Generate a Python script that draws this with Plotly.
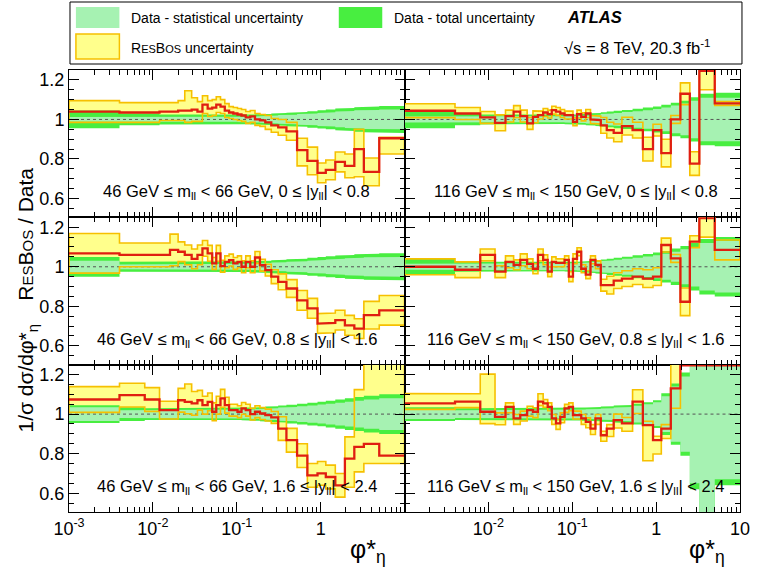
import plotly.graph_objects as go
from plotly.subplots import make_subplots

# ---------------- data ----------------
phi_edges = [0.0, 0.004, 0.008, 0.012, 0.016, 0.020, 0.024, 0.029, 0.034, 0.039, 0.045,
             0.051, 0.057, 0.064, 0.072, 0.081, 0.091, 0.102, 0.114, 0.128, 0.145, 0.165,
             0.189, 0.219, 0.258, 0.312, 0.391, 0.524, 0.695, 0.918, 1.153, 1.496, 1.947,
             2.522, 3.277, 5.0, 10.0]

x_tick_vals = [1e-3, 1e-2, 1e-1, 1, 10]
x_tick_text_left = ["10<sup>-3</sup>", "10<sup>-2</sup>", "10<sup>-1</sup>", "1", ""]
x_tick_text_right = ["", "10<sup>-2</sup>", "10<sup>-1</sup>", "1", "10"]
y_tick_vals = [0.6, 0.8, 1.0, 1.2]
y_tick_text = ["0.6", "0.8", "1", "1.2"]

panel_labels = [
    "46 GeV ≤ m<sub>ll</sub> < 66 GeV, 0 ≤ |y<sub>ll</sub>| < 0.8",
    "116 GeV ≤ m<sub>ll</sub> < 150 GeV, 0 ≤ |y<sub>ll</sub>| < 0.8",
    "46 GeV ≤ m<sub>ll</sub> < 66 GeV, 0.8 ≤ |y<sub>ll</sub>| < 1.6",
    "116 GeV ≤ m<sub>ll</sub> < 150 GeV, 0.8 ≤ |y<sub>ll</sub>| < 1.6",
    "46 GeV ≤ m<sub>ll</sub> < 66 GeV, 1.6 ≤ |y<sub>ll</sub>| < 2.4",
    "116 GeV ≤ m<sub>ll</sub> < 150 GeV, 1.6 ≤ |y<sub>ll</sub>| < 2.4",
]

# Panel A: 46-66 GeV, 0<|y|<0.8
resA = [1.040, 1.035, 1.035, 1.040, 1.040, 1.045, 1.045, 1.050, 1.040, 1.075, 1.055, 1.060,
        1.075, 1.065, 1.045, 1.035, 1.030, 1.025, 1.020, 1.010, 1.015, 1.000, 0.995, 0.985,
        0.970, 0.960, 0.940, 0.845, 0.790, 0.730, 0.745, 0.785, 0.765, 0.850, 0.735, 0.905]
resA_up = [0.055, 0.050, 0.050, 0.045, 0.045, 0.050, 0.100, 0.060, 0.050, 0.045, 0.040, 0.040,
           0.040, 0.035, 0.035, 0.030, 0.030, 0.030, 0.030, 0.030, 0.030, 0.030, 0.030, 0.035,
           0.035, 0.040, 0.045, 0.060, 0.070, 0.050, 0.050, 0.050, 0.060, 0.100, 0.070, 0.005]
resA_dn = [0.055, 0.050, 0.050, 0.045, 0.045, 0.050, 0.060, 0.060, 0.050, 0.045, 0.040, 0.040,
           0.040, 0.035, 0.035, 0.030, 0.030, 0.030, 0.030, 0.030, 0.030, 0.030, 0.030, 0.035,
           0.035, 0.040, 0.045, 0.080, 0.070, 0.050, 0.050, 0.050, 0.060, 0.140, 0.070, 0.080]
statA = [0.012, 0.010, 0.010, 0.010, 0.010, 0.010, 0.010, 0.010, 0.010, 0.010, 0.010, 0.010,
         0.010, 0.010, 0.012, 0.012, 0.012, 0.013, 0.013, 0.014, 0.015, 0.016, 0.017, 0.018,
         0.020, 0.022, 0.024, 0.027, 0.030, 0.033, 0.036, 0.040, 0.043, 0.046, 0.048, 0.050]
totA = [0.045, 0.030, 0.030, 0.025, 0.025, 0.025, 0.025, 0.025, 0.025, 0.025, 0.022, 0.022,
        0.022, 0.022, 0.022, 0.022, 0.022, 0.023, 0.023, 0.024, 0.025, 0.026, 0.027, 0.028,
        0.030, 0.032, 0.034, 0.037, 0.042, 0.046, 0.050, 0.055, 0.058, 0.062, 0.065, 0.068]

# Panel B: 116-150 GeV, 0<|y|<0.8
resB = [1.044, 1.030, 1.010, 0.983, 1.017, 1.040, 1.017, 0.980, 1.013, 1.022, 1.035, 1.027,
        1.047, 1.040, 1.030, 1.022, 1.022, 0.988, 1.027, 1.013, 1.030, 1.000, 0.997, 0.970,
        0.946, 0.932, 0.966, 0.946, 0.850, 0.946, 0.830, 1.000, 1.130, 0.777, 1.400, 1.081]
resB_up = [0.035, 0.030, 0.030, 0.040, 0.030, 0.030, 0.030, 0.030, 0.030, 0.020, 0.020, 0.020,
           0.020, 0.020, 0.020, 0.020, 0.020, 0.020, 0.020, 0.020, 0.020, 0.020, 0.020, 0.040,
           0.040, 0.045, 0.045, 0.040, 0.060, 0.030, 0.070, 0.020, 0.055, 0.060, 0.250, 0.010]
resB_dn = resB_up
statB = [0.015, 0.015, 0.013, 0.013, 0.013, 0.013, 0.013, 0.013, 0.013, 0.013, 0.013, 0.013,
         0.013, 0.014, 0.014, 0.015, 0.015, 0.016, 0.017, 0.018, 0.020, 0.022, 0.024, 0.027,
         0.030, 0.033, 0.037, 0.042, 0.047, 0.053, 0.060, 0.070, 0.080, 0.095, 0.110, 0.110]
totB = [0.045, 0.030, 0.025, 0.022, 0.022, 0.022, 0.022, 0.022, 0.022, 0.022, 0.022, 0.022,
        0.022, 0.023, 0.023, 0.024, 0.024, 0.025, 0.026, 0.027, 0.029, 0.031, 0.033, 0.036,
        0.040, 0.044, 0.048, 0.054, 0.060, 0.066, 0.074, 0.085, 0.095, 0.112, 0.130, 0.135]

# Panel C: 46-66 GeV, 0.8<|y|<1.6
resC = [1.068, 1.060, 1.060, 1.060, 1.085, 1.076, 1.060, 1.040, 1.060, 1.093, 1.068, 1.017,
        1.068, 1.003, 1.025, 1.034, 1.017, 1.025, 1.000, 1.025, 1.000, 1.047, 1.008, 0.983,
        0.950, 0.924, 0.890, 0.830, 0.790, 0.713, 0.716, 0.730, 0.704, 0.687, 0.755, 0.780]
resC_up = [0.100, 0.060, 0.060, 0.060, 0.080, 0.050, 0.050, 0.050, 0.050, 0.040, 0.040, 0.030,
           0.040, 0.030, 0.030, 0.030, 0.030, 0.030, 0.030, 0.030, 0.030, 0.030, 0.030, 0.030,
           0.035, 0.040, 0.045, 0.050, 0.050, 0.050, 0.050, 0.050, 0.050, 0.050, 0.070, 0.075]
resC_dn = resC_up
statC = [0.030, 0.012, 0.012, 0.012, 0.012, 0.012, 0.012, 0.012, 0.012, 0.012, 0.012, 0.012,
         0.012, 0.012, 0.013, 0.013, 0.013, 0.014, 0.014, 0.015, 0.016, 0.017, 0.018, 0.019,
         0.021, 0.023, 0.025, 0.028, 0.031, 0.034, 0.037, 0.040, 0.043, 0.046, 0.048, 0.050]
totC = [0.050, 0.025, 0.025, 0.025, 0.025, 0.025, 0.025, 0.025, 0.025, 0.025, 0.025, 0.025,
        0.025, 0.025, 0.025, 0.025, 0.025, 0.026, 0.026, 0.027, 0.028, 0.029, 0.030, 0.031,
        0.033, 0.035, 0.038, 0.041, 0.045, 0.049, 0.053, 0.057, 0.060, 0.063, 0.066, 0.068]

# Panel D: 116-150 GeV, 0.8<|y|<1.6
resD = [1.000, 0.985, 1.060, 0.975, 1.025, 1.010, 1.035, 1.015, 0.990, 1.060, 1.035, 0.975,
        1.025, 1.020, 1.020, 1.035, 0.950, 1.040, 1.076, 0.990, 0.960, 1.035, 1.010, 0.907,
        0.907, 0.930, 0.940, 0.950, 0.940, 0.950, 1.110, 1.042, 0.823, 1.127, 1.400, 1.085]
resD_up = [0.040, 0.040, 0.030, 0.030, 0.030, 0.025, 0.030, 0.025, 0.025, 0.030, 0.025, 0.025,
           0.025, 0.020, 0.020, 0.020, 0.025, 0.025, 0.020, 0.020, 0.020, 0.020, 0.020, 0.030,
           0.045, 0.040, 0.040, 0.040, 0.045, 0.045, 0.035, 0.020, 0.070, 0.030, 0.250, 0.050]
resD_dn = resD_up
statD = [0.015, 0.015, 0.015, 0.015, 0.015, 0.015, 0.015, 0.015, 0.015, 0.015, 0.015, 0.015,
         0.015, 0.016, 0.016, 0.017, 0.017, 0.018, 0.019, 0.020, 0.022, 0.024, 0.026, 0.029,
         0.032, 0.036, 0.040, 0.046, 0.052, 0.058, 0.066, 0.076, 0.088, 0.100, 0.120, 0.130]
totD = [0.040, 0.025, 0.022, 0.022, 0.022, 0.022, 0.022, 0.022, 0.022, 0.022, 0.022, 0.022,
        0.022, 0.023, 0.023, 0.024, 0.024, 0.025, 0.026, 0.027, 0.029, 0.031, 0.034, 0.037,
        0.041, 0.046, 0.051, 0.058, 0.065, 0.072, 0.080, 0.092, 0.105, 0.120, 0.140, 0.150]

# Panel E: 46-66 GeV, 1.6<|y|<2.4
resE = [1.074, 1.096, 1.074, 1.020, 1.020, 1.070, 1.062, 1.054, 1.070, 1.045, 1.062, 1.012,
        1.045, 1.080, 1.045, 1.020, 1.020, 1.012, 1.029, 1.020, 1.000, 1.012, 1.003, 0.995,
        0.983, 0.927, 0.868, 0.790, 0.690, 0.700, 0.682, 0.640, 0.775, 0.834, 0.850, 0.790]
resE_up = [0.065, 0.060, 0.060, 0.045, 0.045, 0.060, 0.090, 0.060, 0.050, 0.045, 0.045, 0.045,
           0.045, 0.045, 0.040, 0.030, 0.030, 0.030, 0.030, 0.030, 0.030, 0.030, 0.030, 0.030,
           0.030, 0.060, 0.060, 0.060, 0.060, 0.060, 0.060, 0.060, 0.110, 0.290, 0.600, 0.600]
resE_dn = [0.065, 0.060, 0.060, 0.045, 0.045, 0.060, 0.060, 0.060, 0.050, 0.045, 0.045, 0.045,
           0.045, 0.045, 0.040, 0.030, 0.030, 0.030, 0.030, 0.030, 0.030, 0.030, 0.030, 0.030,
           0.030, 0.060, 0.060, 0.060, 0.060, 0.060, 0.060, 0.060, 0.145, 0.126, 0.100, 0.040]
statE = [0.035, 0.020, 0.020, 0.020, 0.020, 0.020, 0.020, 0.020, 0.020, 0.020, 0.020, 0.020,
         0.020, 0.020, 0.020, 0.020, 0.020, 0.020, 0.021, 0.022, 0.023, 0.024, 0.026, 0.028,
         0.030, 0.033, 0.036, 0.040, 0.044, 0.048, 0.053, 0.058, 0.063, 0.068, 0.074, 0.080]
totE = [0.045, 0.035, 0.030, 0.030, 0.030, 0.030, 0.030, 0.030, 0.030, 0.030, 0.030, 0.030,
        0.030, 0.030, 0.030, 0.030, 0.030, 0.030, 0.031, 0.032, 0.033, 0.034, 0.036, 0.038,
        0.040, 0.043, 0.047, 0.052, 0.057, 0.062, 0.068, 0.074, 0.080, 0.086, 0.093, 0.100]

# Panel F: 116-150 GeV, 1.6<|y|<2.4
resF = [1.054, 1.063, 1.012, 0.986, 1.037, 0.978, 0.995, 1.020, 1.012, 1.063, 1.054, 1.037,
        0.978, 0.953, 0.986, 1.029, 1.037, 0.995, 0.995, 0.978, 0.961, 0.927, 0.978, 0.893,
        0.927, 0.970, 0.953, 1.063, 0.944, 0.868, 0.927, 1.130, 1.320, 1.350, 1.320, 1.320]
resF_up = [0.050, 0.040, 0.190, 0.020, 0.020, 0.020, 0.020, 0.020, 0.020, 0.040, 0.020, 0.020,
           0.020, 0.020, 0.020, 0.020, 0.020, 0.020, 0.020, 0.020, 0.020, 0.020, 0.020, 0.020,
           0.020, 0.030, 0.030, 0.060, 0.020, 0.020, 0.020, 0.150, 0.050, 0.050, 0.050, 0.050]
resF_dn = [0.030, 0.030, 0.060, 0.040, 0.030, 0.030, 0.030, 0.030, 0.030, 0.020, 0.020, 0.020,
           0.030, 0.030, 0.030, 0.020, 0.020, 0.020, 0.020, 0.030, 0.030, 0.030, 0.030, 0.030,
           0.040, 0.040, 0.040, 0.060, 0.180, 0.070, 0.050, 0.100, 0.050, 0.050, 0.050, 0.050]
statF = [0.025, 0.020, 0.020, 0.020, 0.020, 0.020, 0.020, 0.020, 0.020, 0.020, 0.020, 0.020,
         0.020, 0.020, 0.020, 0.021, 0.021, 0.022, 0.022, 0.023, 0.024, 0.025, 0.026, 0.028,
         0.030, 0.033, 0.036, 0.042, 0.050, 0.060, 0.090, 0.140, 0.190, 0.350, 0.600, 0.330]
totF = [0.035, 0.030, 0.030, 0.030, 0.030, 0.030, 0.030, 0.030, 0.030, 0.030, 0.030, 0.030,
        0.030, 0.030, 0.030, 0.031, 0.031, 0.032, 0.032, 0.033, 0.034, 0.035, 0.036, 0.038,
        0.040, 0.043, 0.046, 0.052, 0.060, 0.070, 0.105, 0.155, 0.210, 0.380, 0.650, 0.360]

panels = [
    (resA, resA_up, resA_dn, statA, totA),
    (resB, resB_up, resB_dn, statB, totB),
    (resC, resC_up, resC_dn, statC, totC),
    (resD, resD_up, resD_dn, statD, totD),
    (resE, resE_up, resE_dn, statE, totE),
    (resF, resF_up, resF_dn, statF, totF),
]

# ---------------- style ----------------
XMIN, XMAX = 1e-3, 10.0
YMIN, YMAX = 0.505, 1.25
C_STAT = "#a6f2b2"
C_TOT = "#48ee40"
C_YEL = "#ffff8c"
C_ORG = "#f6c000"
C_RED = "#e01e10"
FONT = "Liberation Sans, Arial, sans-serif"

W, H = 762, 582
ML, MR, MT, MB = 69, 14, 70, 70


def step_xy(vals):
    xs, ys = [], []
    for i, v in enumerate(vals):
        lo = max(phi_edges[i], XMIN)
        hi = phi_edges[i + 1]
        xs += [lo, hi]
        ys += [v, v]
    return xs, ys


def band_xy(lower, upper):
    xu, yu = step_xy(upper)
    xl, yl = step_xy(lower)
    xs = xu + xl[::-1] + [xu[0]]
    ys = yu + yl[::-1] + [yu[0]]
    return xs, ys


def clip(v):
    # like ROOT: draw out-of-range lines along the frame
    return min(max(v, YMIN + 0.004), YMAX - 0.004)


fig = make_subplots(rows=3, cols=2, horizontal_spacing=0, vertical_spacing=0)

minor_x = [m * 10.0 ** e for e in range(-3, 1) for m in range(2, 10)]

for k, (res, up, dn, stat, tot) in enumerate(panels):
    r, c = k // 2 + 1, k % 2 + 1
    bx, by = band_xy([a - b for a, b in zip(res, dn)], [a + b for a, b in zip(res, up)])
    fig.add_trace(go.Scatter(x=bx, y=by, fill="toself", fillcolor=C_YEL, mode="lines",
                             line=dict(width=0), hoverinfo="skip", showlegend=False), row=r, col=c)
    tx, ty = band_xy([1 - t for t in tot], [1 + t for t in tot])
    fig.add_trace(go.Scatter(x=tx, y=ty, fill="toself", fillcolor=C_TOT, mode="lines",
                             line=dict(width=0), hoverinfo="skip", showlegend=False), row=r, col=c)
    sx, sy = band_xy([1 - s for s in stat], [1 + s for s in stat])
    fig.add_trace(go.Scatter(x=sx, y=sy, fill="toself", fillcolor=C_STAT, mode="lines",
                             line=dict(width=0), hoverinfo="skip", showlegend=False), row=r, col=c)
    fig.add_trace(go.Scatter(x=[XMIN, XMAX], y=[1, 1], mode="lines",
                             line=dict(color="#555555", width=1, dash="dot"),
                             hoverinfo="skip", showlegend=False), row=r, col=c)
    fig.add_trace(go.Scatter(x=bx, y=[min(max(v, YMIN - 0.01), YMAX + 0.01) for v in by],
                             mode="lines", line=dict(color=C_ORG, width=1.6), hoverinfo="skip",
                             showlegend=False), row=r, col=c)
    rx, ry = step_xy(res)
    fig.add_trace(go.Scatter(x=rx, y=[clip(v) for v in ry], mode="lines",
                             line=dict(color=C_RED, width=2.3), hoverinfo="skip",
                             showlegend=False), row=r, col=c)

    bottom = (r == 3)
    left = (c == 1)
    fig.update_xaxes(type="log", range=[-3, 1], showline=True, linecolor="black", linewidth=1,
                     mirror="allticks", ticks="inside", ticklen=10, tickcolor="black",
                     tickvals=x_tick_vals,
                     ticktext=(x_tick_text_left if left else x_tick_text_right),
                     showticklabels=bottom, showgrid=False, zeroline=False,
                     tickfont=dict(size=18, family=FONT, color="black"),
                     minor=dict(tickvals=minor_x, ticks="inside", ticklen=5, tickcolor="black",
                                showgrid=False),
                     row=r, col=c)
    fig.update_yaxes(range=[YMIN, YMAX], showline=True, linecolor="black", linewidth=1,
                     mirror="allticks", ticks="inside", ticklen=10, tickcolor="black",
                     tickvals=y_tick_vals, ticktext=y_tick_text, showticklabels=left,
                     showgrid=False, zeroline=False,
                     tickfont=dict(size=18, family=FONT, color="black"),
                     minor=dict(dtick=0.05, tick0=0.5, ticks="inside", ticklen=5,
                                tickcolor="black", showgrid=False),
                     row=r, col=c)
    xref = fig.get_subplot(r, c).xaxis.plotly_name.replace("axis", "")
    yref = fig.get_subplot(r, c).yaxis.plotly_name.replace("axis", "")
    fig.add_annotation(text=panel_labels[k], xref=xref + " domain", yref=yref + " domain",
                       x=0.5 if left else 0.51, y=0.17, xanchor="center", yanchor="middle",
                       showarrow=False, font=dict(size=16.5, family=FONT, color="black"))


def px(x):
    return (x - ML) / (W - ML - MR)


def py(y):
    return (H - MB - y) / (H - MT - MB)


shapes = [
    dict(type="rect", xref="paper", yref="paper", x0=px(70), x1=px(750), y0=py(64), y1=py(2),
         line=dict(color="black", width=1), fillcolor="white", layer="below"),
    dict(type="rect", xref="paper", yref="paper", x0=px(76), x1=px(120), y0=py(28), y1=py(7),
         line=dict(width=0), fillcolor=C_STAT),
    dict(type="rect", xref="paper", yref="paper", x0=px(342), x1=px(386), y0=py(28), y1=py(7),
         line=dict(width=0), fillcolor=C_TOT),
    dict(type="rect", xref="paper", yref="paper", x0=px(76), x1=px(120), y0=py(59), y1=py(34),
         line=dict(color=C_ORG, width=1.5), fillcolor=C_YEL),
]
for s in shapes:
    fig.add_shape(**s)

smallcaps = "R<span style='font-size:11px'>ES</span>B<span style='font-size:11px'>OS</span>"
legend_texts = [
    (130, 18, "Data - statistical uncertainty", 14),
    (396, 18, "Data - total uncertainty", 14),
    (130, 48, smallcaps + " uncertainty", 14),
    (568, 47, "√s = 8 TeV, 20.3 fb<sup>-1</sup>", 16.5),
]
for x, y, t, s in legend_texts:
    fig.add_annotation(text=t, xref="paper", yref="paper", x=px(x), y=py(y), xanchor="left",
                       yanchor="middle", showarrow=False,
                       font=dict(size=s, family=FONT, color="black"))
fig.add_annotation(text="<b><i>ATLAS</i></b>", xref="paper", yref="paper", x=px(571), y=py(17),
                   xanchor="left", yanchor="middle", showarrow=False,
                   font=dict(size=16.5, family=FONT, color="black"))

ytitle = ("1/σ dσ/dφ*<sub>η</sub>    R<span style='font-size:15px'>ES</span>B"
          "<span style='font-size:15px'>OS</span> / Data")
fig.add_annotation(text=ytitle, xref="paper", yref="paper", x=px(27), y=py(300),
                   xanchor="center", yanchor="middle", textangle=-90, showarrow=False,
                   font=dict(size=21, family=FONT, color="black"))
for xx in (372, 715):
    fig.add_annotation(text="φ*<sub>η</sub>", xref="paper", yref="paper", x=px(xx), y=py(551),
                       xanchor="center", yanchor="middle", showarrow=False,
                       font=dict(size=25, family=FONT, color="black"))

fig.update_layout(width=W, height=H, margin=dict(l=ML, r=MR, t=MT, b=MB),
                  paper_bgcolor="white", plot_bgcolor="white", showlegend=False,
                  font=dict(family=FONT, color="black"))

fig.write_html("out.html", config={"displayModeBar": False},
               post_script="document.body.style.margin='0px';document.body.style.overflow='hidden';")
